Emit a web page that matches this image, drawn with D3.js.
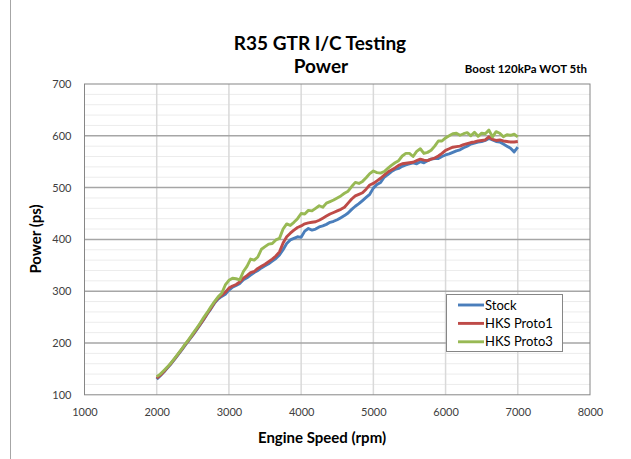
<!DOCTYPE html>
<html><head><meta charset="utf-8">
<script src="https://cdn.jsdelivr.net/npm/d3@7"></script>
<style>
body{margin:0;background:#fff;}
svg{display:block;font-family:Lato,"Open Sans",sans-serif;}
</style></head>
<body><div id="chart"></div>
<script>
const rpm = d3.range(2000, 7001, 50);
const stock = [130,137,144,152,160,169,178,187,197,206,215,225,235,245,256,266,277,285,290,294,302,308,311,315,322,326,331,336,340,345,349,353,358,363,370,380,392,399,402,405,404,416,421,418,420,424,426,429,433,435,438,442,446,451,458,464,469,475,481,487,499,506,510,520,525,531,535,537,541,544,546,548,546,550,548,552,555,556,556,560,563,565,568,571,573,577,580,584,586,588,589,591,595,592,589,588,584,580,576,569,578];
const proto1 = [132,138,145,153,161,170,179,188,198,207,216,226,236,246,257,267,278,287,292,298,306,310,313,318,325,330,336,338,344,348,352,357,362,368,376,393,405,412,418,423,426,430,432,433,434,437,441,445,449,452,455,458,462,470,478,484,487,490,497,505,508,513,518,524,530,534,538,543,546,547,548,549,552,555,553,552,555,557,561,566,572,575,578,579,580,583,585,587,588,590,591,592,598,593,591,592,590,589,588,588,589];
const proto3 = [135,140,147,154,162,171,180,189,199,208,218,228,238,249,259,270,280,289,296,312,321,325,324,322,338,348,362,360,366,381,386,391,392,399,402,420,430,427,433,440,450,449,456,455,460,465,462,470,473,476,480,484,489,493,502,510,508,512,519,527,532,529,528,531,537,543,548,552,561,566,566,560,570,575,566,568,572,580,590,590,596,600,604,605,601,604,606,600,607,599,605,604,611,598,608,605,598,602,601,603,598];
const seriesNames = ["Stock","HKS Proto1","HKS Proto3"];
const seriesColors = ["#4a7ebb","#be4b48","#98b954"];
const xTicks = [1000,2000,3000,4000,5000,6000,7000,8000];
const yTicks = [100,200,300,400,500,600,700];

const W = 631, H = 459;
const L = 84.5, R = 590, T = 84, B = 394.8;
const svg = d3.select("#chart").append("svg").attr("width", W).attr("height", H);

// outer chart border (left)
svg.append("line").attr("x1",10.5).attr("x2",10.5).attr("y1",0).attr("y2",H).attr("stroke","#a6a6a6").attr("stroke-width",1);

const x = d3.scaleLinear().domain([1000,8000]).range([L,R]);
const y = d3.scaleLinear().domain([100,700]).range([B,T]);

// minor horizontal gridlines
const minor = d3.range(120, 700, 20).filter(v => v % 100 !== 0);
svg.append("g").selectAll("line").data(minor).join("line")
  .attr("x1",L).attr("x2",R).attr("y1",d=>y(d)).attr("y2",d=>y(d))
  .attr("stroke","#ececec").attr("stroke-width",1);
// vertical gridlines
svg.append("g").selectAll("line").data(xTicks.slice(1,-1)).join("line")
  .attr("x1",d=>x(d)).attr("x2",d=>x(d)).attr("y1",T).attr("y2",B)
  .attr("stroke","#d9d9d9").attr("stroke-width",1.5);
// major horizontal gridlines
svg.append("g").selectAll("line").data(yTicks.slice(1,-1)).join("line")
  .attr("x1",L).attr("x2",R).attr("y1",d=>y(d)).attr("y2",d=>y(d))
  .attr("stroke","#a6a6a6").attr("stroke-width",1.5);
// plot border
svg.append("rect").attr("x",L).attr("y",T).attr("width",R-L).attr("height",B-T)
  .attr("fill","none").attr("stroke","#868686").attr("stroke-width",1);

// axes via d3
const xAxis = svg.append("g").attr("transform",`translate(0,${B})`)
  .call(d3.axisBottom(x).tickValues(xTicks).tickSize(0).tickPadding(13).tickFormat(d3.format("d")));
xAxis.select(".domain").remove();
const yAxis = svg.append("g").attr("transform",`translate(${L},0)`)
  .call(d3.axisLeft(y).tickValues(yTicks).tickSize(0).tickPadding(13).tickFormat(d3.format("d")));
yAxis.select(".domain").remove();
svg.selectAll(".tick text").attr("font-family","Lato, sans-serif").attr("font-size",11).attr("fill","#404040");

// lines
const allSeries = [stock, proto1, proto3];
const line = d3.line().x((d,i)=>x(rpm[i])).y(d=>y(d));
allSeries.forEach((s,k)=>{
  svg.append("path").datum(s).attr("d",line).attr("fill","none")
    .attr("stroke",seriesColors[k]).attr("stroke-width",2.9).attr("stroke-linejoin","round");
});

// titles
svg.append("text").attr("x",320).attr("y",50).attr("text-anchor","middle")
  .attr("font-size",19).attr("font-weight","bold").attr("fill","#000").text("R35 GTR I/C Testing");
svg.append("text").attr("x",321).attr("y",73).attr("text-anchor","middle")
  .attr("font-size",19).attr("font-weight","bold").attr("fill","#000").text("Power");
svg.append("text").attr("x",587).attr("y",73).attr("text-anchor","end")
  .attr("font-size",11.5).attr("font-weight","bold").attr("fill","#000").text("Boost 120kPa  WOT  5th");
svg.append("text").attr("x",322).attr("y",443).attr("text-anchor","middle")
  .attr("font-size",15).attr("font-weight","bold").attr("fill","#000").text("Engine Speed (rpm)");
svg.append("text").attr("transform","translate(41,239) rotate(-90)").attr("text-anchor","middle")
  .attr("font-size",15).attr("font-weight","bold").attr("fill","#000").text("Power (ps)");

// legend
const lg = svg.append("g");
lg.append("rect").attr("x",446.5).attr("y",294.5).attr("width",116).attr("height",57)
  .attr("fill","#fff").attr("stroke","#868686").attr("stroke-width",1);
seriesNames.forEach((n,k)=>{
  const cy = 305 + k*18.4;
  lg.append("line").attr("x1",458).attr("x2",484).attr("y1",cy).attr("y2",cy)
    .attr("stroke",seriesColors[k]).attr("stroke-width",2.9);
  lg.append("text").attr("x",485).attr("y",cy+4.5).attr("font-size",13).attr("fill","#000").text(n);
});
</script></body></html>
